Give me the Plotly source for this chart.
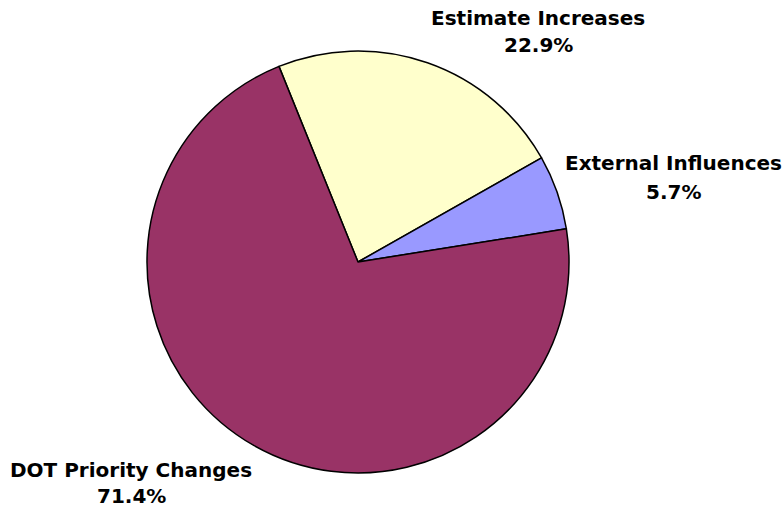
import plotly.graph_objects as go

# Share of cost changes by cause
labels = ["Estimate Increases", "External Influences", "DOT Priority Changes"]
values = [22.9, 5.7, 71.4]
colors = ["#FFFFCC", "#9999FF", "#993366"]

# Label anchor points (pixel centres of the name line and the percent line)
label_x = [538, 673, 131]
name_y = [18, 163, 470]
pct_y = [45, 192, 496]

W, H = 784, 510
cx, cy, r = 358, 262, 211

fig = go.Figure(go.Pie(
    labels=labels,
    values=values,
    sort=False,
    direction="clockwise",
    rotation=-22,
    marker=dict(colors=colors, line=dict(color="black", width=1.5)),
    textinfo="none",
    hoverinfo="label+percent",
    domain=dict(x=[(cx - r) / W, (cx + r) / W], y=[1 - (cy + r) / H, 1 - (cy - r) / H]),
    showlegend=False,
))

font = dict(family="DejaVu Sans", size=20, color="black")
annotations = []
for name, val, x, y1, y2 in zip(labels, values, label_x, name_y, pct_y):
    annotations.append(dict(text=f"<b>{name}</b>", x=x / W, y=1 - y1 / H, xref="paper", yref="paper",
                            showarrow=False, xanchor="center", yanchor="middle", font=font))
    annotations.append(dict(text=f"<b>{val:.1f}%</b>", x=x / W, y=1 - y2 / H, xref="paper", yref="paper",
                            showarrow=False, xanchor="center", yanchor="middle", font=font))

fig.update_layout(
    width=W, height=H,
    margin=dict(l=0, r=0, t=0, b=0),
    paper_bgcolor="white",
    plot_bgcolor="white",
    annotations=annotations,
)

fig.write_html("out.html")
